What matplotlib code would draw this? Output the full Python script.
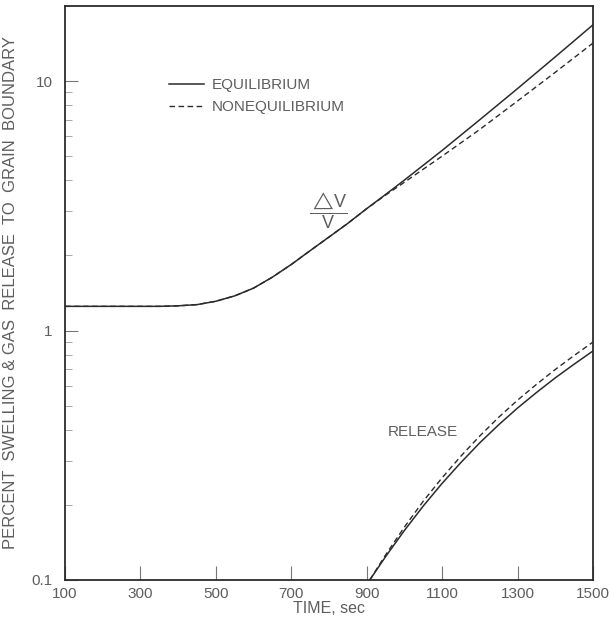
import matplotlib.pyplot as plt
from matplotlib.ticker import FixedLocator, LogLocator, NullFormatter

plt.rcParams['font.family'] = ['Liberation Sans', 'DejaVu Sans']
plt.rcParams['mathtext.fontset'] = 'custom'
plt.rcParams['mathtext.rm'] = 'Liberation Sans'

# swelling dV/V (percent)
t_swell = [100, 200, 300, 350, 400, 450, 500, 550, 600, 650, 700, 750, 800,
           850, 900, 950, 1000, 1100, 1200, 1300, 1400, 1500]
swell_eq = [1.25, 1.25, 1.25, 1.25, 1.256, 1.27, 1.31, 1.377, 1.479, 1.637, 1.84,
            2.09, 2.37, 2.69, 3.08, 3.51, 4.01, 5.27, 7.00, 9.33, 12.5, 16.8]
swell_neq = [1.25, 1.25, 1.25, 1.25, 1.256, 1.27, 1.31, 1.377, 1.479, 1.637, 1.84,
             2.09, 2.37, 2.69, 3.08, 3.49, 3.93, 5.00, 6.40, 8.32, 10.84, 14.2]

# gas release to grain boundary (percent)
t_rel = [908, 950, 1000, 1050, 1100, 1150, 1200, 1250, 1300, 1350, 1400, 1450, 1500]
rel_eq = [0.100, 0.124, 0.158, 0.198, 0.244, 0.296, 0.355, 0.419, 0.489,
          0.564, 0.646, 0.733, 0.828]
rel_neq = [0.100, 0.126, 0.163, 0.207, 0.257, 0.314, 0.378, 0.449, 0.526,
           0.608, 0.698, 0.794, 0.899]

x_ticks = [100, 300, 500, 700, 900, 1100, 1300, 1500]
y_ticks = [0.1, 1, 10]
y_labels = ['0.1', '1', '10']

ink = '#2b2b2b'
txt = '#5e5e5e'

fig = plt.figure(figsize=(6.1, 6.26), dpi=100)
ax = fig.add_axes([0.1066, 0.0735, 0.8655, 0.917])

ax.plot(t_swell, swell_eq, color=ink, lw=1.1, label='EQUILIBRIUM')
ax.plot(t_swell, swell_neq, color=ink, lw=1.0, dashes=(4, 2.5), label='NONEQUILIBRIUM')
ax.plot(t_rel, rel_eq, color=ink, lw=1.1)
ax.plot(t_rel, rel_neq, color=ink, lw=1.0, dashes=(4, 2.5))

ax.set_yscale('log')
ax.set_xlim(100, 1500)
ax.set_ylim(0.1, 20)

ax.xaxis.set_major_locator(FixedLocator(x_ticks))
ax.set_xticklabels([str(v) for v in x_ticks])
ax.yaxis.set_major_locator(FixedLocator(y_ticks))
ax.set_yticklabels(y_labels)
ax.yaxis.set_minor_locator(LogLocator(base=10, subs=range(2, 10)))
ax.yaxis.set_minor_formatter(NullFormatter())

ax.tick_params(axis='x', direction='in', length=10, width=0.8, color='#777777',
               labelsize=11, labelcolor=txt, pad=5)
ax.tick_params(axis='y', which='major', direction='in', length=9, width=0.8,
               color='#777777', labelsize=11, labelcolor=txt, pad=9)
ax.tick_params(axis='y', which='minor', direction='in', length=5, width=0.6,
               color='#999999')

for s in ax.spines.values():
    s.set_color(ink)
    s.set_linewidth(1.3)

ax.set_xlabel('TIME, sec', fontsize=11.5, color=txt, labelpad=0)
ax.set_ylabel('PERCENT  SWELLING & GAS  RELEASE  TO  GRAIN  BOUNDARY',
              fontsize=12, color=txt, labelpad=10)

ax.legend(loc='upper left', bbox_to_anchor=(0.197, 0.874), frameon=False,
          fontsize=11, labelcolor=txt, handlelength=2.3, handletextpad=0.5,
          labelspacing=0.5, borderpad=0, borderaxespad=0)

ax.text(797, 3.01, r'$\dfrac{\triangle\!\mathrm{V}}{\mathrm{V}}$', fontsize=13,
        color=txt, ha='center', va='center')
ax.text(1049, 0.392, 'RELEASE', fontsize=11, color=txt, ha='center', va='center')

fig.savefig('out.png', dpi=100)
